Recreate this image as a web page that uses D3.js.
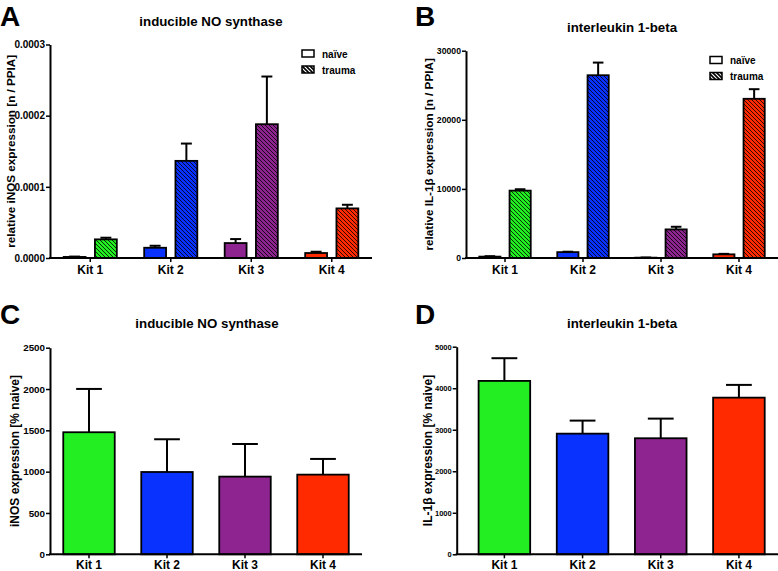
<!DOCTYPE html>
<html>
<head>
<meta charset="utf-8">
<script src="https://cdn.jsdelivr.net/npm/d3@7"></script>
<style>
  body { margin: 0; background: #fff; }
  text { font-family: "Liberation Sans", Arial, sans-serif; font-weight: bold; }
</style>
</head>
<body>
<script>
// categories and colours
const kits = ["Kit 1", "Kit 2", "Kit 3", "Kit 4"];
const kitColors = ["#22ee22", "#0a32ff", "#8e2490", "#ff2a00"];
const groups = ["naïve", "trauma"];

// A - iNOS relative expression (mean, sem)
const inosNaive = [0.0000015, 0.0000144, 0.000021, 0.000007];
const inosNaiveSem = [0.0000005, 0.0000028, 0.0000056, 0.0000018];
const inosTrauma = [0.0000262, 0.0001365, 0.000188, 0.0000697];
const inosTraumaSem = [0.0000023, 0.0000243, 0.000067, 0.0000051];

// B - IL-1beta relative expression
const il1Naive = [200, 850, 50, 530];
const il1NaiveSem = [60, 60, 20, 70];
const il1Trauma = [9750, 26450, 4140, 23040];
const il1TraumaSem = [200, 1830, 380, 1390];

// C / D - % of naive
const inosPct = [1477, 996, 940, 964];
const inosPctSem = [524, 396, 395, 190];
const il1Pct = [4176, 2906, 2795, 3773];
const il1PctSem = [547, 314, 473, 307];

// tick labels
const ticksA = [0, 0.0001, 0.0002, 0.0003];
const ticksB = [0, 10000, 20000, 30000];
const ticksC = [0, 500, 1000, 1500, 2000, 2500];
const ticksD = [0, 1000, 2000, 3000, 4000, 5000];

const svg = d3.select("body").append("svg")
    .attr("width", 778)
    .attr("height", 571);

// hatch patterns, one per kit colour
const defs = svg.append("defs");
kitColors.forEach((c, i) => {
    const p = defs.append("pattern")
        .attr("id", "hatch" + i)
        .attr("patternUnits", "userSpaceOnUse")
        .attr("width", 4)
        .attr("height", 4);
    p.append("rect").attr("width", 4).attr("height", 4).attr("fill", c);
    p.append("path")
        .attr("d", "M-1,-1L5,5M-1,3L1,5M3,-1L5,1")
        .attr("stroke", "#000")
        .attr("stroke-width", 1)
        .attr("stroke-opacity", 0.8);
});
const hatchW = defs.append("pattern")
    .attr("id", "hatchW")
    .attr("patternUnits", "userSpaceOnUse")
    .attr("width", 4)
    .attr("height", 4);
hatchW.append("rect").attr("width", 4).attr("height", 4).attr("fill", "#fff");
hatchW.append("path")
    .attr("d", "M-1,-1L5,5M-1,3L1,5M3,-1L5,1")
    .attr("stroke", "#000")
    .attr("stroke-width", 1.6);

function drawPanel(cfg) {
    const g = svg.append("g");

    const y = d3.scaleLinear()
        .domain([0, cfg.max])
        .range([cfg.bottom, cfg.top]);

    const x0 = d3.scaleBand()
        .domain(kits)
        .range(cfg.xRange)
        .paddingInner(0.34)
        .paddingOuter(0.17);

    // series: list of {values, sem, hatched}
    const x1 = d3.scaleBand()
        .domain(d3.range(cfg.series.length))
        .range([0, x0.bandwidth()])
        .paddingInner(0.3);

    cfg.series.forEach((s, si) => {
        const bw = cfg.series.length > 1 ? x1.bandwidth() : x0.bandwidth();
        const off = cfg.series.length > 1 ? x1(si) : 0;
        const bars = g.selectAll(".bar" + si)
            .data(kits)
            .enter();

        // error bars first (so bar outline sits on top)
        bars.append("line")
            .attr("x1", (d) => x0(d) + off + bw / 2)
            .attr("x2", (d) => x0(d) + off + bw / 2)
            .attr("y1", (d, i) => y(s.values[i]))
            .attr("y2", (d, i) => y(s.values[i] + s.sem[i]))
            .attr("stroke", "#000")
            .attr("stroke-width", 2);
        bars.append("line")
            .attr("x1", (d) => x0(d) + off + bw / 4)
            .attr("x2", (d) => x0(d) + off + bw * 3 / 4)
            .attr("y1", (d, i) => y(s.values[i] + s.sem[i]))
            .attr("y2", (d, i) => y(s.values[i] + s.sem[i]))
            .attr("stroke", "#000")
            .attr("stroke-width", 2);

        bars.append("rect")
            .attr("x", (d) => x0(d) + off)
            .attr("y", (d, i) => y(s.values[i]))
            .attr("width", bw)
            .attr("height", (d, i) => cfg.bottom - y(s.values[i]))
            .attr("fill", (d, i) => s.hatched ? "url(#hatch" + i + ")" : kitColors[i])
            .attr("stroke", "#000")
            .attr("stroke-width", 1.8);
    });

    // y axis
    const yAxis = g.append("g")
        .attr("transform", "translate(" + cfg.axisX + ",0)")
        .call(d3.axisLeft(y)
            .tickValues(cfg.ticks)
            .tickFormat(cfg.fmt)
            .tickSize(4)
            .tickSizeOuter(0)
            .tickPadding(1));
    yAxis.select(".domain").attr("stroke-width", 2);
    yAxis.selectAll(".tick line").attr("stroke-width", 1.5);
    yAxis.selectAll("text")
        .attr("font-size", cfg.tickFont)
        .attr("fill", "#000");

    // x axis
    const xAxis = g.append("g")
        .attr("transform", "translate(0," + cfg.bottom + ")")
        .call(d3.axisBottom(x0)
            .tickSize(4)
            .tickSizeOuter(0)
            .tickPadding(cfg.kitPad));
    xAxis.select(".domain").remove();
    xAxis.append("line")
        .attr("x1", cfg.axisX - 1)
        .attr("x2", cfg.xEnd)
        .attr("stroke", "#000")
        .attr("stroke-width", 2);
    xAxis.selectAll(".tick line").attr("stroke-width", 1.5);
    xAxis.selectAll("text")
        .attr("font-size", 12)
        .attr("fill", "#000");

    // y label
    g.append("text")
        .attr("transform", "translate(" + cfg.labelX + "," + ((cfg.top + cfg.bottom) / 2) + ") rotate(-90)")
        .attr("text-anchor", "middle")
        .attr("dy", "0.35em")
        .attr("font-size", cfg.labelFont)
        .text(cfg.yLabel);

    // title and panel letter
    g.append("text")
        .attr("x", cfg.titleX)
        .attr("y", cfg.titleY)
        .attr("text-anchor", "middle")
        .attr("font-size", 13.3)
        .text(cfg.title);
    g.append("text")
        .attr("x", cfg.letterX)
        .attr("y", cfg.letterY)
        .attr("font-size", 28)
        .text(cfg.letter);

    // legend
    if (cfg.legend) {
        groups.forEach((name, i) => {
            const ly = cfg.legend[1] + i * 16;
            g.append("rect")
                .attr("x", cfg.legend[0])
                .attr("y", ly)
                .attr("width", 12)
                .attr("height", 7)
                .attr("fill", i === 0 ? "#fff" : "url(#hatchW)")
                .attr("stroke", "#000")
                .attr("stroke-width", 1.5);
            g.append("text")
                .attr("x", cfg.legend[0] + 20)
                .attr("y", ly + 7.5)
                .attr("font-size", 10)
                .text(name);
        });
    }
}

drawPanel({
    letter: "A", letterX: 0, letterY: 26,
    title: "inducible NO synthase", titleX: 211, titleY: 25.5,
    yLabel: "relative iNOS expression [n / PPIA]", labelX: 10.5, labelFont: 11.7,
    axisX: 50, xRange: [50, 372], xEnd: 372, kitPad: 3,
    top: 44.5, bottom: 258, max: 0.0003,
    ticks: ticksA, fmt: d3.format(".4f"), tickFont: 10,
    series: [
        { values: inosNaive, sem: inosNaiveSem, hatched: false },
        { values: inosTrauma, sem: inosTraumaSem, hatched: true }
    ],
    legend: [302, 50]
});

drawPanel({
    letter: "B", letterX: 415, letterY: 26,
    title: "interleukin 1-beta", titleX: 622, titleY: 31.5,
    yLabel: "relative IL-1β expression [n / PPIA]", labelX: 429, labelFont: 11.7,
    axisX: 466, xRange: [466, 778], xEnd: 778, kitPad: 3,
    top: 50.7, bottom: 258, max: 30000,
    ticks: ticksB, fmt: d3.format("d"), tickFont: 8.7,
    series: [
        { values: il1Naive, sem: il1NaiveSem, hatched: false },
        { values: il1Trauma, sem: il1TraumaSem, hatched: true }
    ],
    legend: [710, 56.5]
});

drawPanel({
    letter: "C", letterX: 0, letterY: 324,
    title: "inducible NO synthase", titleX: 207, titleY: 328,
    yLabel: "iNOS expression [% naive]", labelX: 15, labelFont: 12,
    axisX: 50, xRange: [50, 362], xEnd: 362, kitPad: 2,
    top: 347.7, bottom: 554.3, max: 2500,
    ticks: ticksC, fmt: d3.format("d"), tickFont: 9.8,
    series: [{ values: inosPct, sem: inosPctSem, hatched: false }]
});

drawPanel({
    letter: "D", letterX: 415, letterY: 324,
    title: "interleukin 1-beta", titleX: 622, titleY: 328,
    yLabel: "IL-1β expression [% naive]", labelX: 428, labelFont: 12,
    axisX: 456.7, xRange: [465.3, 778], xEnd: 778, kitPad: 2,
    top: 346.7, bottom: 554.3, max: 5000,
    ticks: ticksD, fmt: d3.format("d"), tickFont: 7.5,
    series: [{ values: il1Pct, sem: il1PctSem, hatched: false }]
});
</script>
</body>
</html>
